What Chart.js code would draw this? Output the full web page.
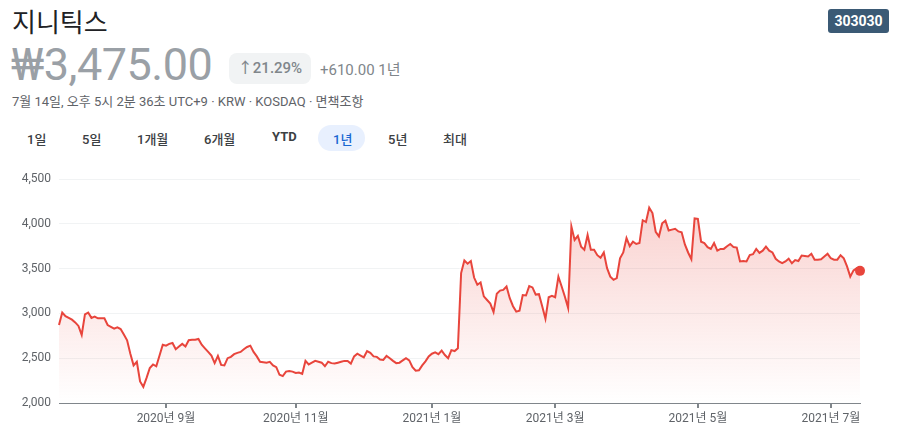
<!DOCTYPE html>
<html lang="ko">
<head>
<meta charset="utf-8">
<script src="https://cdn.jsdelivr.net/npm/chart.js@4/dist/chart.umd.min.js"></script>
<style>
  body { margin: 0; width: 897px; height: 444px; background: #fff; position: relative; overflow: hidden;
         font-family: Roboto, "Noto Sans CJK KR", sans-serif; }
  .abs { position: absolute; white-space: nowrap; }
  #name { left: 12px; top: 2px; font-size: 26px; color: #202124; }
  #badge { left: 828px; top: 9px; width: 61px; height: 24px; line-height: 24px; text-align: center;
           background: #3b5a75; color: #fff; font-weight: bold; font-size: 14px; border-radius: 3px; }
  #price { left: 11px; top: 38px; font-size: 45px; color: #9aa0a6; letter-spacing: -0.5px; }
  #chip { left: 229px; top: 53px; width: 82px; height: 31px; line-height: 31px; text-align: center;
          background: #f1f3f4; border-radius: 8px; color: #80868b; font-size: 15px; font-weight: 500; }
  #delta { left: 320px; top: 58px; font-size: 15px; color: #80868b; }
  #meta { left: 12px; top: 91px; font-size: 13px; color: #5f6368; }
  .tab { top: 129px; font-size: 13px; color: #3c4043; font-weight: 500; }
  #sel { left: 318px; top: 125px; width: 47px; height: 26px; background: #e8f0fe; border-radius: 13px; }
  #chartBox { left: 0; top: 160px; width: 897px; height: 284px; }
</style>
</head>
<body>
<div class="abs" id="name">지니틱스</div>
<div class="abs" id="badge">303030</div>
<div class="abs" id="price">₩3,475.00</div>
<div class="abs" id="chip">↑21.29%</div>
<div class="abs" id="delta">+610.00 1년</div>
<div class="abs" id="meta">7월 14일, 오후 5시 2분 36초 UTC+9 · KRW · KOSDAQ · 면책조항</div>
<div class="abs" id="sel"></div>
<div class="abs tab" style="left:27px">1일</div>
<div class="abs tab" style="left:82px">5일</div>
<div class="abs tab" style="left:137px">1개월</div>
<div class="abs tab" style="left:204px">6개월</div>
<div class="abs tab" style="left:272px;font-weight:bold">YTD</div>
<div class="abs tab" style="left:333px;color:#1967d2">1년</div>
<div class="abs tab" style="left:388px">5년</div>
<div class="abs tab" style="left:443px">최대</div>
<div class="abs" id="chartBox"><canvas id="priceChart" width="897" height="284"></canvas></div>

<script>
// daily closes, 2020-07-15 .. 2021-07-14 (trading days)
const prices = [
  2870, 3010, 2970, 2950, 2930, 2900, 2860, 2760, 2990, 3010,
  2950, 2965, 2945, 2945, 2945, 2870, 2850, 2830, 2845, 2825,
  2765, 2700, 2550, 2420, 2460, 2240, 2180, 2280, 2390, 2430,
  2410, 2530, 2650, 2640, 2660, 2670, 2600, 2630, 2660, 2630,
  2700, 2705, 2705, 2715, 2650, 2610, 2570, 2530, 2445, 2525,
  2425, 2420, 2500, 2515, 2545, 2560, 2570, 2600, 2625, 2640,
  2570, 2520, 2460, 2455, 2450, 2460, 2420, 2400, 2315, 2300,
  2350, 2357, 2350, 2335, 2340, 2325, 2470, 2430, 2450, 2470,
  2460, 2450, 2410, 2460, 2445, 2440, 2450, 2460, 2470, 2470,
  2440, 2520, 2550, 2530, 2510, 2580, 2560, 2520, 2515, 2485,
  2480, 2525, 2500, 2470, 2445, 2450, 2475, 2500, 2475, 2400,
  2360, 2365, 2420, 2465, 2520, 2550, 2565, 2545, 2585, 2535,
  2500, 2590, 2580, 2610, 3450, 3590, 3555, 3585, 3400, 3320,
  3345, 3190, 3150, 3110, 3015, 3220, 3255, 3262, 3300, 3170,
  3080, 3020, 3030, 3205, 3200, 3305, 3290, 3210, 3215, 3080,
  2940, 3180, 3195, 3180, 3410, 3300, 3185, 3060, 3970, 3820,
  3865, 3745, 3710, 3875, 3710, 3710, 3650, 3620, 3680, 3505,
  3410, 3375, 3395, 3615, 3680, 3840, 3750, 3800, 3775, 3785,
  4040, 4020, 4180, 4120, 3910, 3860, 4005, 4035, 3925, 3935,
  3945, 3915, 3905, 3770, 3680, 3605, 4060, 4055, 3800, 3785,
  3740, 3720, 3785, 3700, 3720, 3720, 3750, 3775, 3740, 3735,
  3580, 3585, 3580, 3650, 3660, 3720, 3675, 3700, 3745, 3700,
  3680, 3610, 3580, 3560, 3580, 3610, 3560, 3595, 3585, 3645,
  3640, 3635, 3665, 3600, 3600, 3605, 3635, 3665, 3615, 3600,
  3600, 3650, 3615, 3525, 3410, 3480, 3505, 3475
];

// month ticks (trading-day index)
const tickIdx = [33, 73, 115, 153, 197, 238];
const tickLabels = ['2020년 9월', '2020년 11월', '2021년 1월', '2021년 3월', '2021년 5월', '2021년 7월'];

const yTicks = [2000, 2500, 3000, 3500, 4000, 4500];

const lineColor = '#e8453c';
const ctx = document.getElementById('priceChart').getContext('2d');

new Chart(ctx, {
    type: 'line',
    data: {
        datasets: [{
            data: prices.map((v, i) => ({ x: i, y: v })),
            borderColor: lineColor,
            borderWidth: 2,
            tension: 0,
            clip: false,
            fill: 'start',
            backgroundColor: (c) => {
                const area = c.chart.chartArea;
                if (!area) return 'rgba(232,69,60,0.2)';
                const g = c.chart.ctx.createLinearGradient(0, area.top, 0, area.bottom);
                g.addColorStop(0, 'rgba(232,69,60,0.28)');
                g.addColorStop(1, 'rgba(232,69,60,0)');
                return g;
            },
            pointRadius: (c) => c.dataIndex === prices.length - 1 ? 5 : 0,
            pointBackgroundColor: lineColor,
            pointBorderWidth: 0,
            pointHoverRadius: 0
        }]
    },
    options: {
        responsive: false,
        animation: false,
        layout: { padding: { top: 19, right: 37, left: 0, bottom: 0 } },
        scales: {
            x: {
                type: 'linear',
                min: 0,
                max: prices.length - 1,
                afterBuildTicks: (s) => { s.ticks = tickIdx.map(v => ({ value: v })); },
                afterFit: (s) => { s.height = 41; },
                ticks: {
                    autoSkip: false,
                    maxRotation: 0,
                    padding: 4,
                    color: '#5f6368',
                    font: { family: 'Roboto, "Noto Sans CJK KR"', size: 12 },
                    callback: (v) => tickLabels[tickIdx.indexOf(v)]
                },
                grid: { drawOnChartArea: false, drawTicks: true, tickLength: 5, color: '#80868b', lineWidth: 2 },
                border: { display: true, color: '#80868b', width: 1 }
            },
            y: {
                min: 2000,
                max: 4500,
                afterBuildTicks: (s) => { s.ticks = yTicks.map(v => ({ value: v })); },
                afterFit: (s) => { s.width = 59; },
                ticks: {
                    padding: 8,
                    color: '#5f6368',
                    font: { family: 'Roboto', size: 12 },
                    callback: (v) => v.toLocaleString('en-US')
                },
                grid: { color: '#f1f3f4', drawTicks: false },
                border: { display: false }
            }
        },
        plugins: {
            legend: { display: false },
            tooltip: { enabled: false }
        }
    }
});
</script>
</body>
</html>
